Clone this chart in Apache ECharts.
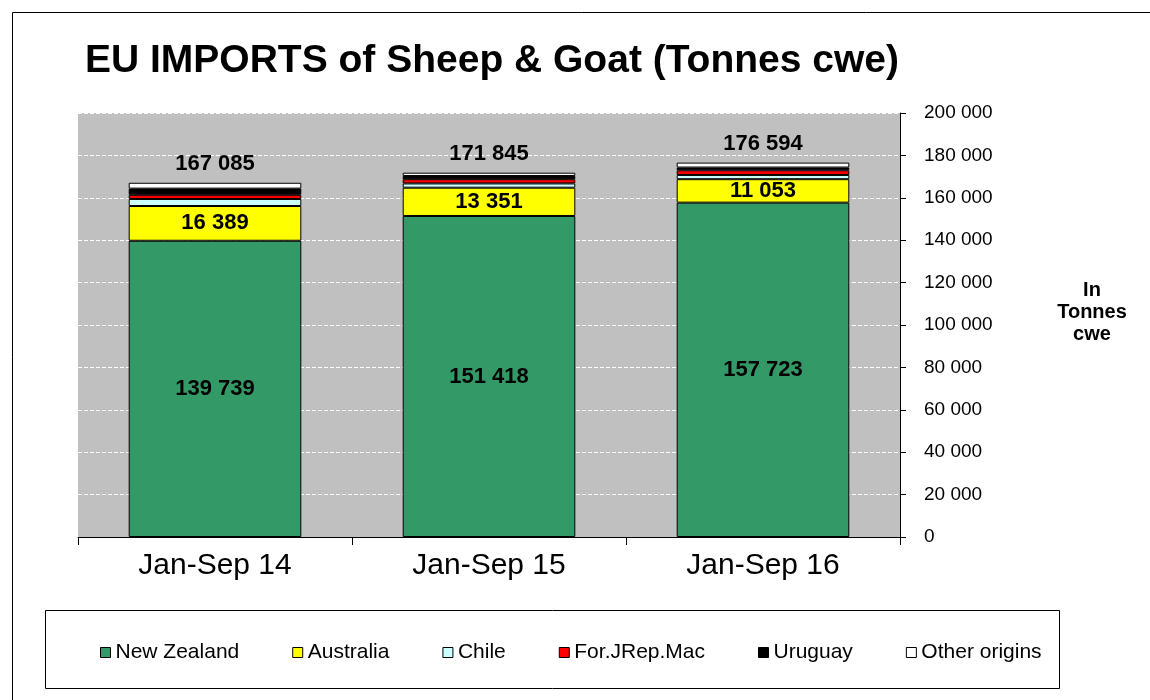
<!DOCTYPE html>
<html>
<head>
<meta charset="utf-8">
<script src="https://cdn.jsdelivr.net/npm/echarts@6/dist/echarts.min.js"></script>
<style>
  html, body { margin: 0; padding: 0; background: #fff; }
  #chart { width: 1150px; height: 700px; }
</style>
</head>
<body>
<div id="chart"></div>
<script>
// periods on the x axis
const periods = ['Jan-Sep 14', 'Jan-Sep 15', 'Jan-Sep 16'];

// tonnes cwe per origin (small origins)
const newZealand = [139739, 151418, 157723];
const australia = [16389, 13351, 11053];
const chile = [3300, 2000, 2000];
const fyrom = [2000, 2000, 2200];
const uruguay = [2900, 1500, 1300];
const otherOrigins = [2757, 1576, 2318];

// totals printed above the bars
const totals = [167085, 171845, 176594];

const fmt = v => String(v).replace(/\B(?=(\d{3})+(?!\d))/g, ' ');
const FONT = 'Arial, Liberation Sans';

const chart = echarts.init(document.getElementById('chart'));

const barBase = {
  type: 'bar',
  stack: 'total',
  barWidth: '63%',
  itemStyle: { borderColor: '#000', borderWidth: 1 },
};

const valueLabel = { show: true, position: 'inside', fontSize: 22, fontWeight: 'bold', color: '#000', fontFamily: FONT, formatter: p => fmt(p.value) };

const option = {
  animation: false,
  backgroundColor: '#fff',
  title: {
    text: 'EU IMPORTS of Sheep & Goat (Tonnes cwe)',
    left: 80,
    top: 37,
    textStyle: { fontFamily: FONT, fontWeight: 'bold', fontSize: 39, color: '#000' },
  },
  legend: {
    left: 100,
    top: 642,
    itemGap: 53,
    itemWidth: 10,
    itemHeight: 10,
    padding: 0,
    icon: 'rect',
    itemStyle: { borderColor: '#000', borderWidth: 1 },
    textStyle: { fontFamily: FONT, fontSize: 21, color: '#000' },
  },
  grid: {
    left: 78, right: 250, top: 113, bottom: 163,
    show: true,
    backgroundColor: '#c0c0c0',
    borderWidth: 0,
  },
  xAxis: {
    type: 'category',
    data: periods,
    axisLine: { lineStyle: { color: '#000', width: 1 } },
    axisTick: { show: true, length: 8, lineStyle: { color: '#000' } },
    axisLabel: { margin: 14, fontSize: 30, color: '#000', fontFamily: FONT },
  },
  yAxis: {
    type: 'value',
    position: 'right',
    min: 0,
    max: 200000,
    interval: 20000,
    axisLine: { show: true, lineStyle: { color: '#000', width: 1 } },
    axisTick: { show: true, length: 6, lineStyle: { color: '#000' } },
    axisLabel: { margin: 24, fontSize: 19, color: '#000', fontFamily: FONT, formatter: v => fmt(v) },
    splitLine: { show: true, lineStyle: { color: '#fff', type: 'dashed', width: 1 } },
  },
  graphic: [
    { type: 'rect', shape: { x: 12.5, y: 12.5, width: 1160, height: 720 }, style: { fill: 'none', stroke: '#000', lineWidth: 1 }, silent: true },
    { type: 'rect', shape: { x: 45.5, y: 610.5, width: 1014, height: 78 }, style: { fill: 'none', stroke: '#000', lineWidth: 1 }, silent: true },
    {
      type: 'text', x: 1092, y: 279,
      style: { text: 'In\nTonnes\ncwe', fontSize: 20, fontWeight: 'bold', fontFamily: FONT, fill: '#000', align: 'center', lineHeight: 22 },
    },
  ],
  series: [
    Object.assign({}, barBase, { name: 'New Zealand', data: newZealand, color: '#339966', label: valueLabel }),
    Object.assign({}, barBase, { name: 'Australia', data: australia, color: '#ffff00', label: valueLabel }),
    Object.assign({}, barBase, { name: 'Chile', data: chile, color: '#ccffff' }),
    Object.assign({}, barBase, { name: 'For.JRep.Mac', data: fyrom, color: '#ff0000' }),
    Object.assign({}, barBase, { name: 'Uruguay', data: uruguay, color: '#000000' }),
    Object.assign({}, barBase, {
      name: 'Other origins', data: otherOrigins, color: '#ffffff',
      label: { show: true, position: 'top', distance: 8, fontSize: 22, fontWeight: 'bold', color: '#000', fontFamily: FONT, formatter: p => fmt(totals[p.dataIndex]) },
    }),
  ],
};

chart.setOption(option);
</script>
</body>
</html>
